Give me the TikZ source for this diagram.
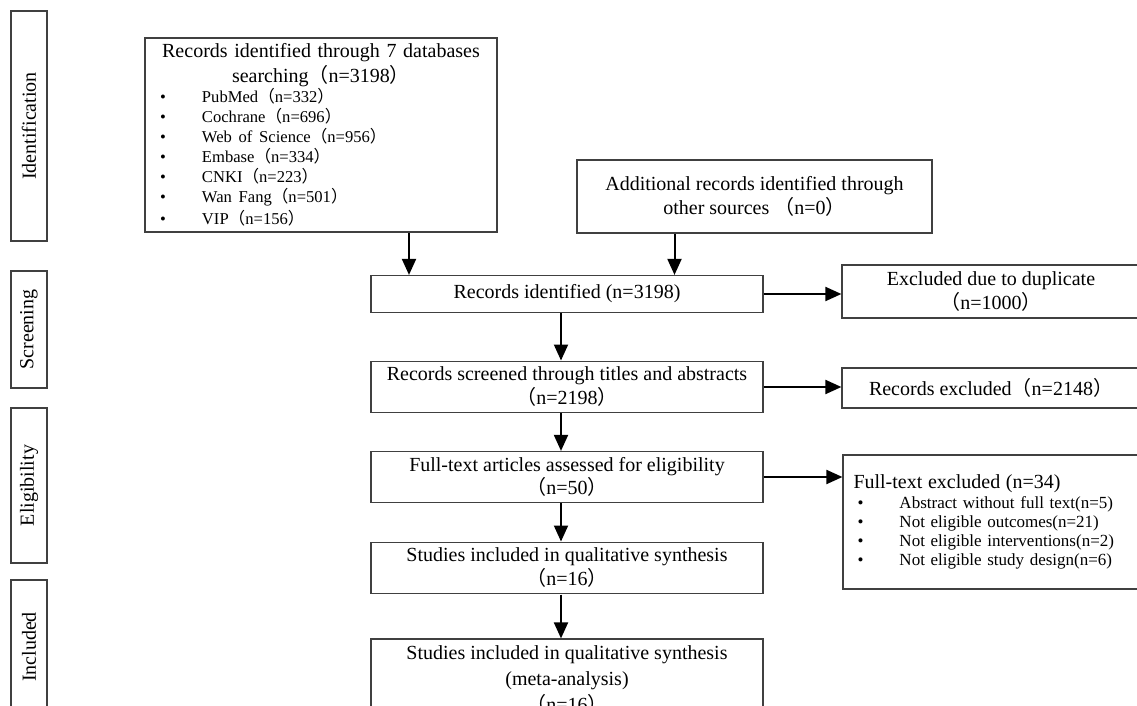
\documentclass[tikz,border=0pt]{standalone}
\usepackage{fontspec}
\setmainfont{Liberation Serif}
\newfontfamily\cjkfont{Noto Sans CJK SC}
\usetikzlibrary{arrows.meta}

\newcommand{\fwlp}{{\cjkfont （}}
\newcommand{\fwrp}{{\cjkfont ）}}
\newcommand{\bul}{\makebox[21pt][l]{\textbullet}}

\tikzset{
  box/.style={draw=black!75, line width=0.6pt, inner sep=3pt, font=\fontsize{10}{12}\selectfont},
  stagebox/.style={draw=black!75, line width=0.6pt, rotate=90, minimum height=18pt, inner sep=0pt, font=\fontsize{10}{12}\selectfont},
  flow/.style={-{Triangle[length=8pt,width=7pt]}, line width=1pt},
}

\begin{document}
\begin{tikzpicture}[x=0.5pt, y=-0.5pt]
\useasboundingbox (0,0) rectangle (1137,706);

% stage labels on the left
\node[stagebox, minimum width=115pt] (idf) at (29,126) {Identification};
\node[stagebox, minimum width=58.5pt] (scr) at (29,329.5) {Screening};
\node[stagebox, minimum width=77.5pt] (elg) at (29,485.5) {Eligibility};
\node[stagebox, minimum width=80pt] (inc) at (29,660) {};
\node[rotate=90, inner sep=0pt, font=\fontsize{10}{12}\selectfont] (inclabel) at (29,647) {Included};

% identification
\node[box, minimum width=176pt, minimum height=97pt, text width=170pt, inner ysep=2pt, font=\fontsize{10}{12.5}\selectfont] (db) at (321,135) {%
  \centering Records identified through 7 databases\\
  searching\fwlp n=3198\fwrp\par
  \raggedright\fontsize{8.3}{10}\selectfont
  \hspace*{4.5pt}\bul PubMed\fwlp n=332\fwrp\\
  \hspace*{4.5pt}\bul Cochrane\fwlp n=696\fwrp\\
  \hspace*{4.5pt}\bul Web of Science\fwlp n=956\fwrp\\
  \hspace*{4.5pt}\bul Embase\fwlp n=334\fwrp\\
  \hspace*{4.5pt}\bul CNKI\fwlp n=223\fwrp\\
  \hspace*{4.5pt}\bul Wan Fang\fwlp n=501\fwrp\\[1pt]
  \hspace*{4.5pt}\bul VIP\fwlp n=156\fwrp\par};
\node[box, align=center, minimum width=177.5pt, minimum height=36.5pt] (add) at (754.5,196.5)
  {Additional records identified through\\ other sources \fwlp n=0\fwrp};

% screening
\node[box, align=center, minimum width=196pt, minimum height=18.5pt] (ident) at (567,294) {Records identified (n=3198)};
\node[box, align=center, minimum width=149pt, minimum height=26.5pt] (dup) at (991,291.5) {Excluded due to duplicate\\ \fwlp n=1000\fwrp};
\node[box, align=center, minimum width=196pt, minimum height=25pt] (screened) at (567,387) {Records screened through titles and abstracts\\ \fwlp n=2198\fwrp};
\node[box, align=center, minimum width=149pt, minimum height=20pt] (excl) at (991,388) {Records excluded\fwlp n=2148\fwrp};

% eligibility
\node[box, align=center, minimum width=196pt, minimum height=23pt, font=\fontsize{10}{11.5}\selectfont] (full) at (567,477) {Full-text articles assessed for eligibility\\ \fwlp n=50\fwrp};
\node[box, minimum width=148.5pt, minimum height=67pt, inner xsep=5pt, text width=138pt, font=\fontsize{8.5}{9.5}\selectfont] (ftex) at (991.5,522) {%
  \raggedright{\fontsize{10}{11}\selectfont Full-text excluded (n=34)}\\[0.5pt]
  \hspace*{2pt}\bul Abstract without full text(n=5)\\
  \hspace*{2pt}\bul Not eligible outcomes(n=21)\\
  \hspace*{2pt}\bul Not eligible interventions(n=2)\\
  \hspace*{2pt}\bul Not eligible study design(n=6)};

% included
\node[box, align=center, minimum width=196pt, minimum height=25pt] (qual) at (567,568) {Studies included in qualitative synthesis\\ \fwlp n=16\fwrp};
\node[box, align=center, minimum width=196pt, minimum height=41pt, font=\fontsize{10}{13}\selectfont] (meta) at (567,680) {Studies included in qualitative synthesis\\ (meta-analysis)\\ \fwlp n=16\fwrp};

% arrows
\draw[flow] ([xshift=44pt]db.south) -- ([xshift=44pt]db.south |- ident.north);
\draw[flow] ([xshift=-40pt]add.south) -- ([xshift=-40pt]add.south |- ident.north);
\draw[flow] (ident.east) -- (ident.east -| dup.west);
\draw[flow] ([xshift=-3pt]ident.south) -- ([xshift=-3pt]screened.north);
\draw[flow] (screened.east) -- (screened.east -| excl.west);
\draw[flow] ([xshift=-3pt]screened.south) -- ([xshift=-3pt]full.north);
\draw[flow] (full.east) -- (full.east -| ftex.west);
\draw[flow] ([xshift=-3pt]full.south) -- ([xshift=-3pt]qual.north);
\draw[flow] ([xshift=-3pt]qual.south) -- ([xshift=-3pt]meta.north);
\end{tikzpicture}
\end{document}
